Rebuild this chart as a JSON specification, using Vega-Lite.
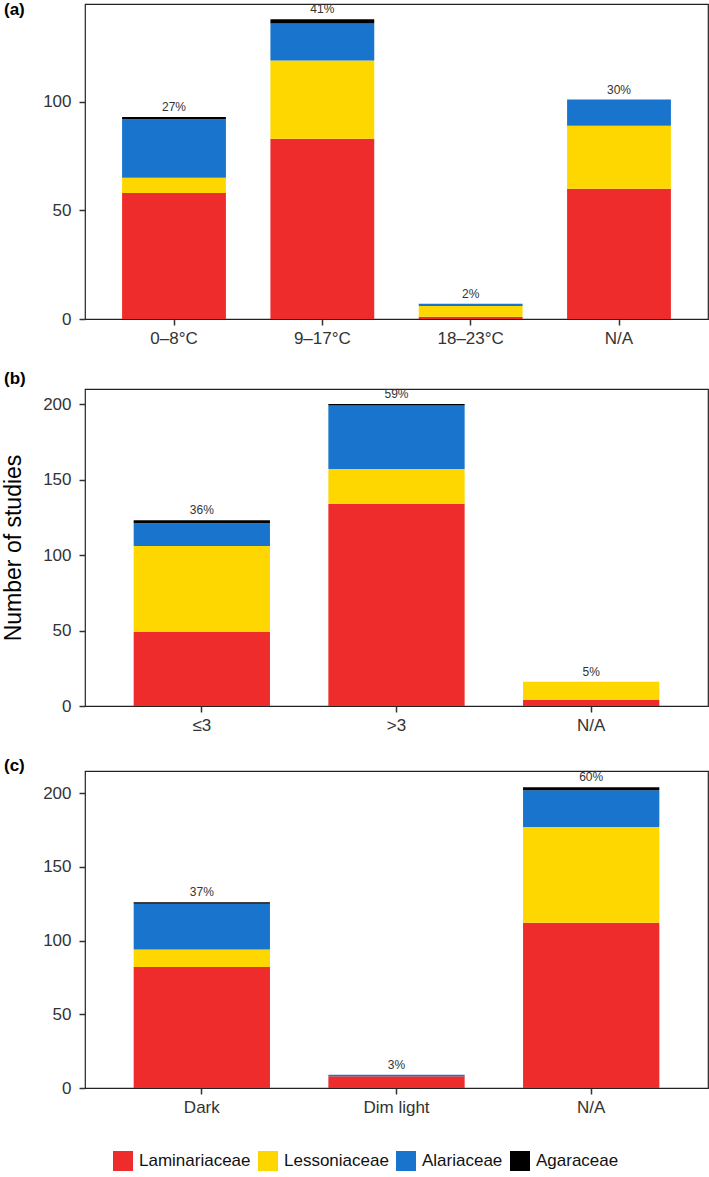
{
  "$schema": "https://vega.github.io/schema/vega-lite/v6.json",
  "padding": {"left": 2, "top": 0, "right": 0, "bottom": 0},
  "background": "white",
  "spacing": 22,
  "datasets": {
    "a": [
      {"cat": "0–8°C", "family": "Laminariaceae", "n": 58, "pct": "27%"},
      {"cat": "0–8°C", "family": "Lessoniaceae", "n": 7, "pct": "27%"},
      {"cat": "0–8°C", "family": "Alariaceae", "n": 27, "pct": "27%"},
      {"cat": "0–8°C", "family": "Agaraceae", "n": 1, "pct": "27%"},
      {"cat": "9–17°C", "family": "Laminariaceae", "n": 83, "pct": "41%"},
      {"cat": "9–17°C", "family": "Lessoniaceae", "n": 36, "pct": "41%"},
      {"cat": "9–17°C", "family": "Alariaceae", "n": 17, "pct": "41%"},
      {"cat": "9–17°C", "family": "Agaraceae", "n": 2, "pct": "41%"},
      {"cat": "18–23°C", "family": "Laminariaceae", "n": 1, "pct": "2%"},
      {"cat": "18–23°C", "family": "Lessoniaceae", "n": 5, "pct": "2%"},
      {"cat": "18–23°C", "family": "Alariaceae", "n": 1, "pct": "2%"},
      {"cat": "N/A", "family": "Laminariaceae", "n": 60, "pct": "30%"},
      {"cat": "N/A", "family": "Lessoniaceae", "n": 29, "pct": "30%"},
      {"cat": "N/A", "family": "Alariaceae", "n": 12, "pct": "30%"}
    ],
    "b": [
      {"cat": "≤3", "family": "Laminariaceae", "n": 49, "pct": "36%"},
      {"cat": "≤3", "family": "Lessoniaceae", "n": 57, "pct": "36%"},
      {"cat": "≤3", "family": "Alariaceae", "n": 15, "pct": "36%"},
      {"cat": "≤3", "family": "Agaraceae", "n": 2, "pct": "36%"},
      {"cat": ">3", "family": "Laminariaceae", "n": 134, "pct": "59%"},
      {"cat": ">3", "family": "Lessoniaceae", "n": 23, "pct": "59%"},
      {"cat": ">3", "family": "Alariaceae", "n": 42, "pct": "59%"},
      {"cat": ">3", "family": "Agaraceae", "n": 1, "pct": "59%"},
      {"cat": "N/A", "family": "Laminariaceae", "n": 4, "pct": "5%"},
      {"cat": "N/A", "family": "Lessoniaceae", "n": 12, "pct": "5%"}
    ],
    "c": [
      {"cat": "Dark", "family": "Laminariaceae", "n": 82, "pct": "37%"},
      {"cat": "Dark", "family": "Lessoniaceae", "n": 12, "pct": "37%"},
      {"cat": "Dark", "family": "Alariaceae", "n": 31, "pct": "37%"},
      {"cat": "Dark", "family": "Agaraceae", "n": 1, "pct": "37%"},
      {"cat": "Dim light", "family": "Laminariaceae", "n": 8, "pct": "3%"},
      {"cat": "Dim light", "family": "Alariaceae", "n": 1, "pct": "3%"},
      {"cat": "N/A", "family": "Laminariaceae", "n": 112, "pct": "60%"},
      {"cat": "N/A", "family": "Lessoniaceae", "n": 65, "pct": "60%"},
      {"cat": "N/A", "family": "Alariaceae", "n": 25, "pct": "60%"},
      {"cat": "N/A", "family": "Agaraceae", "n": 2, "pct": "60%"}
    ]
  },
  "config": {
    "font": "Liberation Sans",
    "view": {"stroke": "#222222", "strokeWidth": 1.2},
    "axis": {
      "labelFont": "Liberation Sans",
      "labelFontSize": 17,
      "labelColor": "#333333",
      "tickColor": "#333333",
      "tickWidth": 1.5,
      "tickSize": 6,
      "grid": false,
      "domain": false,
      "titleFont": "Liberation Sans"
    },
    "axisY": {"labelPadding": 8},
    "axisX": {"labelPadding": 5, "labelAngle": 0},
    "title": {"font": "Liberation Sans", "fontSize": 17, "fontWeight": "bold", "color": "#000000", "anchor": "start", "frame": "group"}
  },
  "resolve": {"scale": {"color": "shared"}},
  "vconcat": [
    {
      "title": {"text": "(a)", "dx": -81, "offset": -16},
      "width": 623,
      "height": 315,
      "data": {"name": "a"},
      "transform": [{"calculate": "indexof(['Laminariaceae','Lessoniaceae','Alariaceae','Agaraceae'], datum.family)", "as": "stackorder"}],
      "layer": [
        {
          "mark": {"type": "bar"},
          "encoding": {
            "x": {"field": "cat", "type": "nominal", "sort": ["0–8°C", "9–17°C", "18–23°C", "N/A"], "scale": {"paddingInner": 0.3, "paddingOuter": 0.25}, "axis": {"title": null}},
            "y": {"field": "n", "type": "quantitative", "stack": "zero", "scale": {"domain": [0, 145], "nice": false}, "axis": {"title": null, "values": [0, 50, 100]}},
            "order": {"field": "stackorder", "type": "quantitative", "sort": "ascending"},
            "color": {
              "field": "family", "type": "nominal",
              "sort": ["Laminariaceae", "Lessoniaceae", "Alariaceae", "Agaraceae"],
              "scale": {"domain": ["Laminariaceae", "Lessoniaceae", "Alariaceae", "Agaraceae"], "range": ["#EE2C2C", "#FFD700", "#1874CD", "#000000"]},
              "legend": {"orient": "none", "legendX": 28, "legendY": 1147, "direction": "horizontal", "title": null, "symbolType": "square", "symbolSize": 400, "symbolStrokeWidth": 0, "labelFontSize": 17, "labelColor": "#111111", "labelFont": "Liberation Sans", "columnPadding": 7, "labelOffset": 6}
            }
          }
        },
        {
          "transform": [{"aggregate": [{"op": "sum", "field": "n", "as": "total"}], "groupby": ["cat", "pct"]}],
          "mark": {"type": "text", "baseline": "bottom", "dy": -3, "fontSize": 12, "color": "#333333"},
          "encoding": {
            "x": {"field": "cat", "type": "nominal", "sort": ["0–8°C", "9–17°C", "18–23°C", "N/A"]},
            "y": {"field": "total", "type": "quantitative"},
            "text": {"field": "pct"}
          }
        }
      ]
    },
    {
      "title": {"text": "(b)", "dx": -81, "offset": 0},
      "width": 623,
      "height": 317,
      "data": {"name": "b"},
      "transform": [{"calculate": "indexof(['Laminariaceae','Lessoniaceae','Alariaceae','Agaraceae'], datum.family)", "as": "stackorder"}],
      "layer": [
        {
          "mark": {"type": "bar"},
          "encoding": {
            "x": {"field": "cat", "type": "nominal", "sort": ["≤3", ">3", "N/A"], "scale": {"paddingInner": 0.3, "paddingOuter": 0.25}, "axis": {"title": null}},
            "y": {"field": "n", "type": "quantitative", "stack": "zero", "scale": {"domain": [0, 210], "nice": false}, "axis": {"title": "Number of studies", "titleFontSize": 23, "titleFontWeight": "normal", "titleColor": "#000000", "titlePadding": 17, "values": [0, 50, 100, 150, 200]}},
            "order": {"field": "stackorder", "type": "quantitative", "sort": "ascending"},
            "color": {
              "field": "family", "type": "nominal",
              "sort": ["Laminariaceae", "Lessoniaceae", "Alariaceae", "Agaraceae"],
              "scale": {"domain": ["Laminariaceae", "Lessoniaceae", "Alariaceae", "Agaraceae"], "range": ["#EE2C2C", "#FFD700", "#1874CD", "#000000"]}
            }
          }
        },
        {
          "transform": [{"aggregate": [{"op": "sum", "field": "n", "as": "total"}], "groupby": ["cat", "pct"]}],
          "mark": {"type": "text", "baseline": "bottom", "dy": -3, "fontSize": 12, "color": "#333333"},
          "encoding": {
            "x": {"field": "cat", "type": "nominal", "sort": ["≤3", ">3", "N/A"]},
            "y": {"field": "total", "type": "quantitative"},
            "text": {"field": "pct"}
          }
        }
      ]
    },
    {
      "title": {"text": "(c)", "dx": -81, "offset": 0, "dy": 4},
      "width": 623,
      "height": 317,
      "data": {"name": "c"},
      "transform": [{"calculate": "indexof(['Laminariaceae','Lessoniaceae','Alariaceae','Agaraceae'], datum.family)", "as": "stackorder"}],
      "layer": [
        {
          "mark": {"type": "bar"},
          "encoding": {
            "x": {"field": "cat", "type": "nominal", "sort": ["Dark", "Dim light", "N/A"], "scale": {"paddingInner": 0.3, "paddingOuter": 0.25}, "axis": {"title": null}},
            "y": {"field": "n", "type": "quantitative", "stack": "zero", "scale": {"domain": [0, 215], "nice": false}, "axis": {"title": null, "values": [0, 50, 100, 150, 200]}},
            "order": {"field": "stackorder", "type": "quantitative", "sort": "ascending"},
            "color": {
              "field": "family", "type": "nominal",
              "sort": ["Laminariaceae", "Lessoniaceae", "Alariaceae", "Agaraceae"],
              "scale": {"domain": ["Laminariaceae", "Lessoniaceae", "Alariaceae", "Agaraceae"], "range": ["#EE2C2C", "#FFD700", "#1874CD", "#000000"]}
            }
          }
        },
        {
          "transform": [{"aggregate": [{"op": "sum", "field": "n", "as": "total"}], "groupby": ["cat", "pct"]}],
          "mark": {"type": "text", "baseline": "bottom", "dy": -3, "fontSize": 12, "color": "#333333"},
          "encoding": {
            "x": {"field": "cat", "type": "nominal", "sort": ["Dark", "Dim light", "N/A"]},
            "y": {"field": "total", "type": "quantitative"},
            "text": {"field": "pct"}
          }
        }
      ]
    }
  ]
}
